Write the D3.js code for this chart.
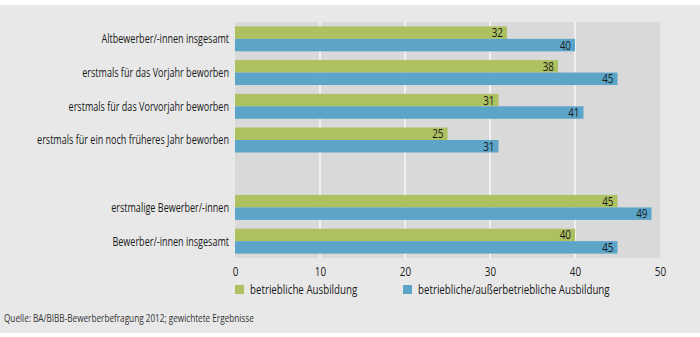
<!DOCTYPE html>
<html>
<head>
<meta charset="utf-8">
<script src="https://cdn.jsdelivr.net/npm/d3@7"></script>
<style>
  html, body { margin: 0; padding: 0; background: #fff; }
  svg { display: block; font-family: "Open Sans", sans-serif; }
</style>
</head>
<body>
<svg id="chart" width="700" height="337"></svg>
<script>
// categories (empty slot = gap between the two blocks)
const categories = [
  "Altbewerber/-innen insgesamt",
  "erstmals für das Vorjahr beworben",
  "erstmals für das Vorvorjahr beworben",
  "erstmals für ein noch früheres Jahr beworben",
  "",
  "erstmalige Bewerber/-innen",
  "Bewerber/-innen insgesamt"
];
const seriesNames = ["betriebliche Ausbildung", "betriebliche/außerbetriebliche Ausbildung"];
const betrieblich = [32, 38, 31, 25, null, 45, 40];
const ausserbetrieblich = [40, 45, 41, 31, null, 49, 45];
const ticks = [0, 10, 20, 30, 40, 50];

(function () {
  const green = "#adc160", blue = "#5ca5c9";
  const colors = [green, blue];

  // narrow the glyphs of a text selection (original font is a condensed face)
  function condense(k) {
    return function (sel) {
      sel.each(function () {
        const w = this.getComputedTextLength();
        d3.select(this).attr("textLength", w * k).attr("lengthAdjust", "spacingAndGlyphs");
      });
    };
  }

  const svg = d3.select("#chart");
  const W = 700;
  const pL = 235, pR = 660, pT = 22, pB = 258;

  // background
  svg.append("rect").attr("x", 0).attr("y", 5).attr("width", W).attr("height", 328).attr("fill", "#e8e8e8");
  svg.append("rect").attr("x", pL).attr("y", pT).attr("width", pR - pL).attr("height", pB - pT)
    .attr("fill", "#d9d9d9");

  const x = d3.scaleLinear().domain([0, 50]).range([pL, pR]);
  const y = d3.scaleBand().domain(d3.range(categories.length)).range([pT, pB])
    .paddingInner(0.26).paddingOuter(0.13);
  const y2 = d3.scaleBand().domain([0, 1]).range([0, y.bandwidth()]);

  // gridlines
  svg.append("g").selectAll("line").data(ticks.slice(1, -1)).join("line")
    .attr("x1", d => x(d)).attr("x2", d => x(d)).attr("y1", pT).attr("y2", pB)
    .attr("stroke", "#fff").attr("stroke-width", 1.2);

  // bars
  const series = [betrieblich, ausserbetrieblich];
  series.forEach((vals, s) => {
    const g = svg.append("g");
    const data = vals.map((v, i) => ({ v, i })).filter(d => d.v != null);
    g.selectAll("rect").data(data).join("rect")
      .attr("x", x(0)).attr("y", d => y(d.i) + y2(s))
      .attr("width", d => x(d.v) - x(0)).attr("height", y2.bandwidth())
      .attr("fill", colors[s]);
    g.selectAll("text").data(data).join("text")
      .attr("x", d => x(d.v) - 4).attr("y", d => y(d.i) + y2(s) + y2.bandwidth() / 2)
      .attr("dy", "0.36em").attr("text-anchor", "end")
      .attr("font-size", 12.5).attr("fill", "#1a1a1a").text(d => d.v)
      .call(condense(0.79));
  });

  // category labels
  svg.append("g").selectAll("text").data(categories.map((c, i) => ({ c, i })).filter(d => d.c))
    .join("text")
    .attr("x", pL - 6).attr("y", d => y(d.i) + y.bandwidth() / 2)
    .attr("dy", "0.36em").attr("text-anchor", "end")
    .attr("font-size", 12.3).attr("fill", "#1a1a1a").text(d => d.c)
    .call(condense(0.735));

  // x axis
  const ax = svg.append("g").attr("transform", `translate(0,${pB})`)
    .call(d3.axisBottom(x).tickValues(ticks).tickSize(0).tickPadding(9));
  ax.select(".domain").remove();
  ax.selectAll("text").attr("font-size", 12.5).attr("fill", "#1a1a1a")
    .attr("font-family", "Open Sans, sans-serif")
    .call(condense(0.79));

  // legend
  const legX = [235, 403];
  seriesNames.forEach((n, s) => {
    svg.append("rect").attr("x", legX[s]).attr("y", 285).attr("width", 9).attr("height", 9).attr("fill", colors[s]);
    svg.append("text").attr("x", legX[s] + 15).attr("y", 289.5).attr("dy", "0.36em")
      .attr("font-size", 12.5).attr("fill", "#1a1a1a").text(n)
      .call(condense(0.78));
  });

  // source
  svg.append("text").attr("x", 4).attr("y", 318).attr("dy", "0.36em")
    .attr("font-size", 10.5).attr("fill", "#333").text("Quelle: BA/BIBB-Bewerberbefragung 2012; gewichtete Ergebnisse")
    .call(condense(0.78));
})();
</script>
</body>
</html>
